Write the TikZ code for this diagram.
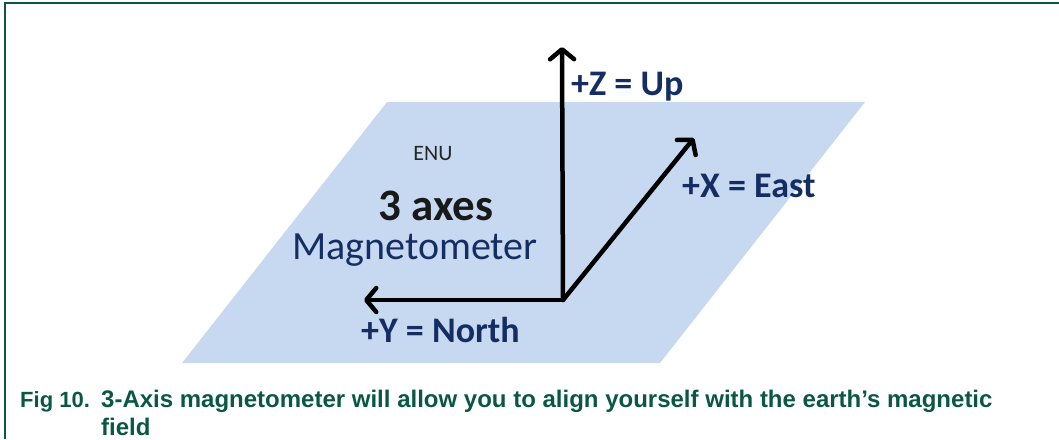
\documentclass[tikz,border=0pt]{standalone}
\usepackage{fontspec}
\usepackage{tikz}
\usetikzlibrary{positioning, arrows.meta}
\newfontfamily\calfont{Carlito}
\newfontfamily\capfont{Liberation Sans}
\definecolor{planeblue}{RGB}{198,217,241}
\definecolor{labelblue}{RGB}{20,46,100}
\definecolor{capgreen}{RGB}{10,88,68}

\begin{document}
\begin{tikzpicture}[
    x=1pt, y=-1pt,
    axis/.style={black, line width=4.5pt, line cap=round, line join=round,
        -{Straight Barb[length=10pt, width=24pt, line cap=round, line join=round]}},
    axislabel/.style={font=\calfont\bfseries\fontsize{36}{38}\selectfont, text=labelblue, inner sep=0pt, anchor=base west},
    caption/.style={font=\capfont\bfseries\fontsize{24}{26}\selectfont, text=capgreen, inner sep=0pt, anchor=base west}
]
    \useasboundingbox (0,0) rectangle (1059,439);
    \draw[capgreen, line width=1.5pt] (5,439) -- (5,3) -- (1059,3);

    \fill[planeblue] (387,102) -- (865,102) -- (660,363) -- (182,363) -- cycle;

    \coordinate (o) at (563,300);
    \coordinate (ztip) at (562,47);
    \coordinate (xtip) at (694,138);
    \coordinate (ytip) at (364,300);

    \draw[axis] (o) -- (ztip);
    \draw[axis] (o) -- (xtip);
    \draw[axis] (o) -- (ytip);

    \node[axislabel] (zlabel) at (571,95) {+Z = Up};
    \node[axislabel] (xlabel) at (682,197) {+X = East};
    \node[axislabel] (ylabel) at (361,342) {+Y = North};

    \node[font=\calfont\fontsize{22}{24}\selectfont, text=black!85, inner sep=0pt, anchor=base] (enu) at (433,160) {ENU};
    \node[font=\calfont\bfseries\fontsize{45}{46}\selectfont, text=black!90, inner sep=0pt, text depth=0pt, anchor=base] (axes) at (436,220) {3 axes};
    \node[font=\calfont\fontsize{40}{44}\selectfont, text=labelblue, inner sep=0pt, text height=22pt, anchor=base] (magneto) at (415,259) {Magnetometer};

    \node[caption, font=\capfont\bfseries\fontsize{22}{26}\selectfont] (fignum) at (20,407) {Fig 10.};
    \node[caption] (capline) at (101,407) {3-Axis magnetometer will allow you to align yourself with the earth’s magnetic};
    \node[caption] (capfield) at (101,435) {field};
\end{tikzpicture}
\end{document}
